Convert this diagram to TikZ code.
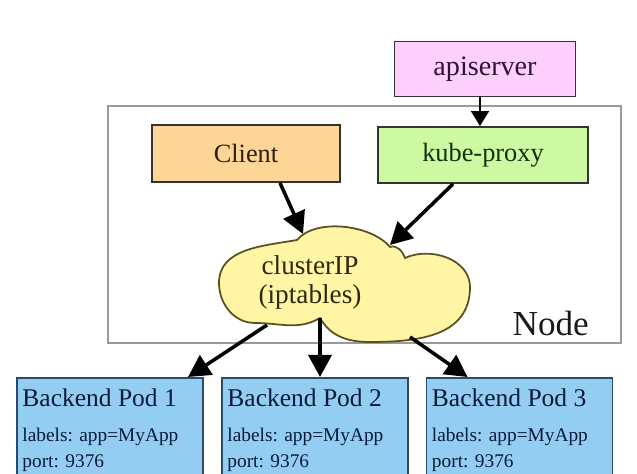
\documentclass[tikz,border=0pt]{standalone}
\usepackage{fontspec}
\setmainfont{Liberation Serif}
\usetikzlibrary{positioning,arrows.meta}
\definecolor{edge}{HTML}{333333}
\definecolor{framegray}{HTML}{9A9A9A}
\definecolor{darkink}{HTML}{1A1A1A}
\definecolor{apifill}{HTML}{FCCFFC}
\definecolor{apiink}{HTML}{2E142E}
\definecolor{clientfill}{HTML}{FCD597}
\definecolor{clientink}{HTML}{2E200A}
\definecolor{kpfill}{HTML}{CCF9A2}
\definecolor{kpink}{HTML}{14300A}
\definecolor{cloudfill}{HTML}{FFF5A5}
\definecolor{cloudedge}{HTML}{5A5020}
\definecolor{cloudink}{HTML}{2E280A}
\definecolor{podfill}{HTML}{94CDF2}
\definecolor{podedge}{HTML}{2A4A6A}
\definecolor{podink}{HTML}{0A1A3A}
\newcommand{\podtitle}{\fontsize{14.5}{17}\selectfont}

\begin{document}
\begin{tikzpicture}[x=1cm,y=1cm,box/.style={draw=edge,line width=1.1pt,rectangle},pod/.style={draw=podedge,fill=podfill,line width=1pt,rectangle,minimum width=3.72cm,minimum height=2.6cm,anchor=north},podtext/.style={anchor=north west,inner sep=0pt,align=left,text=podink,font=\fontsize{11}{14.7}\selectfont},arr/.style={-{Triangle[length=4.4mm,width=4.6mm]},line width=2pt},thinarr/.style={-{Triangle[length=3mm,width=3.6mm]},line width=1.1pt}]
\useasboundingbox (0,0) rectangle (12.74,9.48);
\clip (0,0) rectangle (12.74,9.48);
% node frame
\node[draw=framegray,line width=0.8pt,minimum width=10.26cm,minimum height=4.74cm,inner sep=0pt] (frame) at (7.29,4.99) {};
\node[anchor=base east,font=\fontsize{20}{24}\selectfont,text=darkink] (framelbl) at (11.90,2.76) {Node};
% boxes
\node[box,fill=apifill,text=apiink,minimum width=3.62cm,minimum height=1.1cm,font=\fontsize{16}{19}\selectfont] (api) at (9.70,8.10) {apiserver};
\node[box,fill=clientfill,text=clientink,minimum width=3.76cm,minimum height=1.14cm,font=\fontsize{15}{18}\selectfont] (client) at (4.92,6.41) {Client};
\node[box,fill=kpfill,text=kpink,minimum width=4.2cm,minimum height=1.12cm,font=\fontsize{15}{18}\selectfont] (kp) at (9.66,6.38) {kube-proxy};
% cloud
\draw[draw=cloudedge,fill=cloudfill,line width=1pt] (5.94,4.68) to[out=50,in=130,looseness=0.8] (7.80,4.54) to[out=20,in=110] (8.10,4.32) to[out=25,in=90] (9.40,3.74) to[out=-90,in=0,looseness=1.1] (7.40,2.64) to[out=180,in=-60] (6.40,3.12) to[out=-150,in=0] (5.10,3.02) to[out=180,in=-90] (4.38,3.82) to[out=90,in=-170] (5.94,4.68) -- cycle;
\node[align=center,inner sep=0pt,text=cloudink,font=\fontsize{15.5}{16}\selectfont] (cip) at (6.20,3.83) {clusterIP\\(iptables)};
\coordinate (cin1) at (6.06,4.80);
\coordinate (cin2) at (7.80,4.58);
\coordinate (cout1) at (5.34,2.98);
\coordinate (cout2) at (6.40,3.12);
\coordinate (cout3) at (8.20,2.74);
% pods
\foreach \i/\x in {1/2.20,2/6.30,3/10.39}{\node[pod] (pod\i) at (\x,1.94) {};
\node[podtext] (pod\i txt) at ([xshift=1.2mm,yshift=-2.2mm]pod\i.north west) {{\podtitle Backend Pod \i}\\[5.7pt]labels: app=MyApp\\port: 9376};}
% arrows
\draw[thinarr] ([xshift=-1mm]api.south) -- ([xshift=-1mm]api.south |- kp.north);
\draw[arr] ([xshift=6.8mm]client.south) -- (cin1);
\draw[arr] ([xshift=-6mm]kp.south) -- (cin2);
\draw[arr] (cout1) -- ([xshift=15.6mm]pod1.north);
\draw[arr] (cout2) -- (cout2 |- pod2.north);
\draw[arr] (cout3) -- ([xshift=-10.4mm]pod3.north);
\end{tikzpicture}
\end{document}
